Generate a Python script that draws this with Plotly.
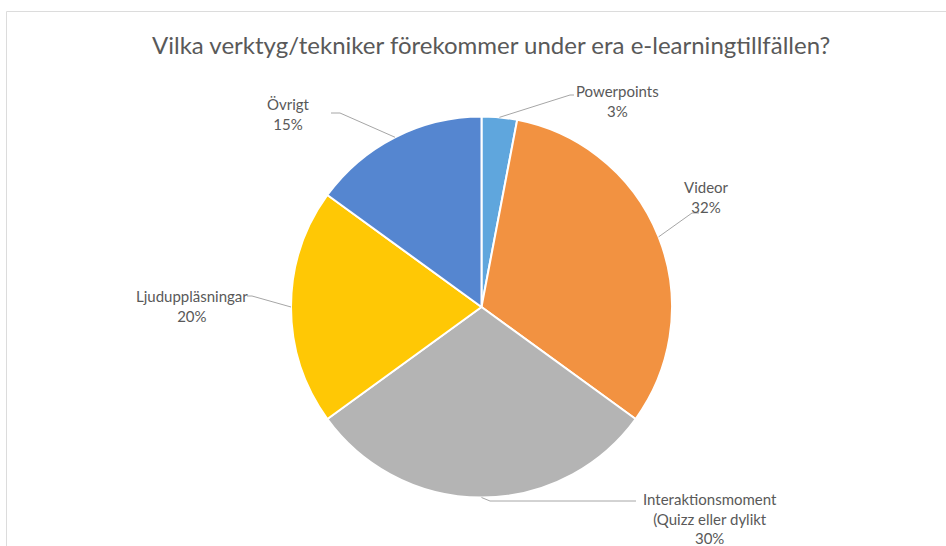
import plotly.graph_objects as go
import math

# ---- data ----
categories = ["Powerpoints", "Videor", "Interaktionsmoment (Quizz eller dylikt",
              "Ljuduppläsningar", "Övrigt"]
values = [3, 32, 30, 20, 15]
label_texts = ["Powerpoints<br>3%", "Videor<br>32%",
               "Interaktionsmoment<br>(Quizz eller dylikt<br>30%",
               "Ljuduppläsningar<br>20%", "Övrigt<br>15%"]
colors = ["#5FA6DD", "#F29241", "#B4B4B4", "#FFC805", "#5586D0"]
title = "Vilka verktyg/tekniker förekommer under era e-learningtillfällen?"

# ---- layout geometry (pixels) ----
W, H = 946, 546
cx, cy, R = 481.5, 307.0, 190.5
FONT = "Lato, 'Open Sans', sans-serif"
TXT = "#595959"

def px(x):
    return x / W

def py(y):
    return 1 - y / H

fig = go.Figure(go.Pie(
    labels=categories, values=values, sort=False, direction="clockwise",
    rotation=0, textinfo="none", hoverinfo="label+percent",
    marker=dict(colors=colors, line=dict(color="white", width=2)),
    domain=dict(x=[px(cx - R), px(cx + R)], y=[py(cy + R), py(cy - R)]),
    showlegend=False,
))

# label positions: (text center x, y), elbow point, line end near text
label_layout = [
    dict(t=(617, 101), elbow=(570, 95), end=(574, 95)),
    dict(t=(706, 197), elbow=(692, 213), end=(699, 213)),
    dict(t=(710, 518), elbow=(490, 501), end=(636, 501)),
    dict(t=(192, 306), elbow=(252, 296), end=(247, 296)),
    dict(t=(288, 114), elbow=(340, 113), end=(331, 113)),
]

total = sum(values)
cum = 0
shapes = []
annotations = []
for v, txt, lay in zip(values, label_texts, label_layout):
    mid = (cum + v / 2) / total * 2 * math.pi
    cum += v
    ex = cx + R * math.sin(mid)
    ey = cy - R * math.cos(mid)
    path = "M {} {} L {} {} L {} {}".format(
        px(ex), py(ey), px(lay["elbow"][0]), py(lay["elbow"][1]),
        px(lay["end"][0]), py(lay["end"][1]))
    shapes.append(dict(type="path", xref="paper", yref="paper", path=path,
                       line=dict(color="#A6A6A6", width=1)))
    annotations.append(dict(text=txt, x=px(lay["t"][0]), y=py(lay["t"][1]),
                            xref="paper", yref="paper", showarrow=False,
                            xanchor="center", yanchor="middle", align="center",
                            font=dict(family=FONT, size=15, color=TXT)))

# outer frame
shapes.append(dict(type="rect", xref="paper", yref="paper",
                   x0=px(6.5), x1=1.02, y0=-0.02, y1=py(11.5),
                   line=dict(color="#DCDCDC", width=1), layer="below"))

annotations.append(dict(text=title, x=px(491), y=py(44), xref="paper", yref="paper",
                        showarrow=False, xanchor="center", yanchor="middle",
                        font=dict(family=FONT, size=24, color=TXT)))

fig.update_layout(width=W, height=H, margin=dict(l=0, r=0, t=0, b=0),
                  paper_bgcolor="white", plot_bgcolor="white",
                  shapes=shapes, annotations=annotations)

fig.write_html("out.html", config={"displayModeBar": False},
               post_script="document.body.style.margin='0';document.body.style.overflow='hidden';")
